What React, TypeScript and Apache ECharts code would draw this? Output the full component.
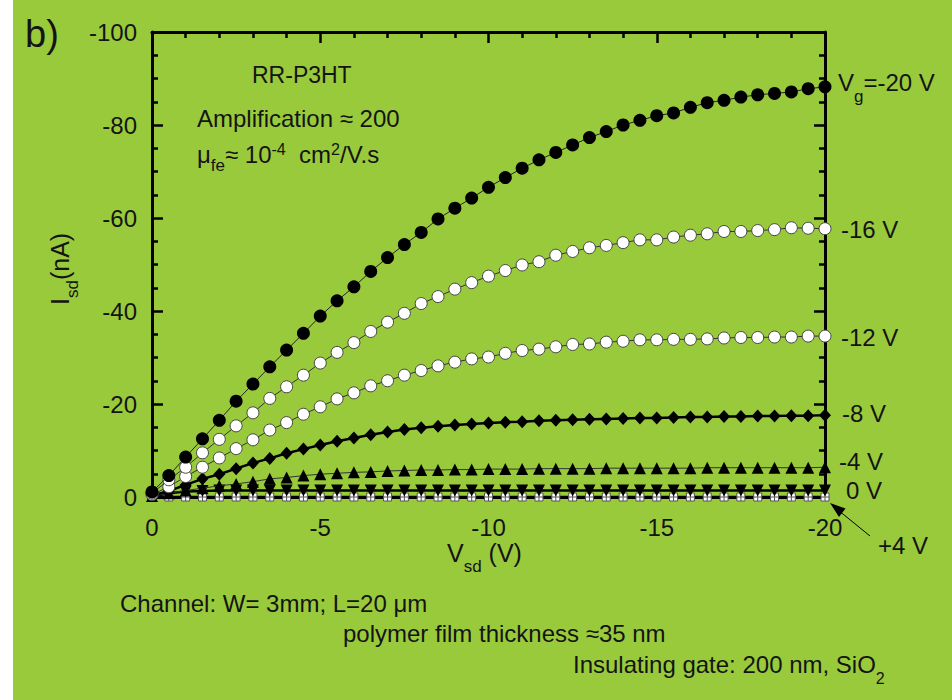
import React, { useEffect, useRef } from 'react';
import * as echarts from 'echarts';

const VSD = [0, -0.5, -1, -1.5, -2, -2.5, -3, -3.5, -4, -4.5, -5, -5.5, -6, -6.5, -7, -7.5, -8, -8.5, -9, -9.5, -10,
  -10.5, -11, -11.5, -12, -12.5, -13, -13.5, -14, -14.5, -15, -15.5, -16, -16.5, -17, -17.5, -18, -18.5, -19, -19.5, -20];

const I_VG_M20 = [-1.1, -4.6, -8.6, -12.5, -16.5, -20.6, -24.3, -28.0, -31.6, -35.2, -38.9, -42.2, -45.2, -48.5, -51.5,
  -54.3, -56.9, -59.8, -62.1, -64.3, -66.6, -68.7, -70.7, -72.5, -74.1, -75.7, -77.3, -78.6, -80.0, -81.0, -82.0,
  -82.6, -83.8, -84.8, -85.3, -86.0, -86.5, -86.8, -87.1, -87.8, -88.2];
const I_VG_M16 = [-0.8, -3.7, -6.4, -9.5, -12.4, -15.3, -18.1, -21.2, -23.7, -26.2, -28.8, -31.1, -33.2, -35.6, -37.6,
  -39.5, -41.6, -43.1, -44.7, -46.1, -47.5, -48.7, -49.9, -50.6, -52.0, -52.8, -53.6, -54.1, -54.7, -55.3, -55.3,
  -55.9, -56.3, -56.6, -57.1, -57.1, -57.3, -57.5, -57.9, -57.8, -57.7];
const I_VG_M12 = [-0.5, -2.2, -4.4, -6.4, -8.4, -10.4, -12.3, -14.4, -16.0, -17.8, -19.4, -21.1, -22.4, -23.9, -25.0,
  -26.2, -27.2, -28.2, -29.0, -29.7, -30.1, -30.9, -31.5, -31.8, -32.3, -32.8, -32.9, -33.3, -33.5, -33.8, -33.8,
  -33.9, -33.9, -34.0, -34.2, -34.3, -34.3, -34.4, -34.4, -34.6, -34.6];
const I_VG_M8 = [-0.3, -1.3, -2.6, -3.9, -4.9, -6.1, -7.3, -8.3, -9.4, -10.3, -11.2, -12.0, -12.7, -13.4, -14.0,
  -14.5, -14.9, -15.2, -15.5, -15.7, -15.9, -16.1, -16.2, -16.4, -16.5, -16.6, -16.7, -16.8, -16.9, -17.0, -17.0,
  -17.1, -17.2, -17.2, -17.3, -17.3, -17.4, -17.4, -17.5, -17.5, -17.6];
const I_VG_M4 = [-0.2, -0.8, -1.4, -1.9, -2.4, -2.8, -3.3, -3.9, -4.2, -4.6, -4.9, -5.1, -5.3, -5.4, -5.6,
  -5.7, -5.8, -5.8, -5.9, -5.9, -6.0, -6.0, -6.0, -6.1, -6.1, -6.1, -6.1, -6.2, -6.2, -6.2, -6.2,
  -6.2, -6.2, -6.3, -6.3, -6.3, -6.3, -6.3, -6.3, -6.3, -6.4];
const I_VG_0 = [-0.1, -0.8, -1.2, -1.3, -1.4, -1.4, -1.4, -1.4, -1.4, -1.4, -1.4, -1.4, -1.4, -1.4, -1.4,
  -1.4, -1.4, -1.4, -1.4, -1.4, -1.4, -1.4, -1.4, -1.4, -1.4, -1.4, -1.4, -1.4, -1.4, -1.4, -1.4,
  -1.4, -1.4, -1.4, -1.4, -1.4, -1.4, -1.4, -1.4, -1.4, -1.4];
const I_VG_P4 = [0, 0, 0, 0, 0, 0, 0, 0, 0, 0, 0, 0, 0, 0, 0, 0, 0, 0, 0, 0, 0,
  0, 0, 0, 0, 0, 0, 0, 0, 0, 0, 0, 0, 0, 0, 0, 0, 0, 0, 0, 0];

const FONT = "'Liberation Sans', Arial, Helvetica, sans-serif";
const INK = '#141414';

type Piece = [string, number, number];

export default function App() {
  const ref = useRef<HTMLDivElement>(null);
  useEffect(() => {
    document.body.style.margin = '0';
    const chart = echarts.init(ref.current!, null, { renderer: 'svg' });
    const ctx = document.createElement('canvas').getContext('2d')!;
    const measure = (t: string, s: number) => {
      ctx.font = `${s}px "Liberation Sans"`;
      return ctx.measureText(t).width;
    };
    const txt = (t: string, x: number, y: number, s = 24, extra: any = {}) => ({
      type: 'text', x, y, z: 100, silent: true, ...extra,
      style: { text: t, fill: INK, fontSize: s, fontFamily: FONT, align: 'left', verticalAlign: 'middle' },
    });
    const row = (x0: number, y0: number, pieces: Piece[], rot = false) => {
      let acc = 0;
      const out: any[] = [];
      for (const [t, s, dy] of pieces) {
        if (rot) out.push(txt(t, x0 + dy, y0 - acc, s, { rotation: Math.PI / 2 }));
        else out.push(txt(t, x0 + acc, y0 + dy, s));
        acc += measure(t, s);
      }
      return out;
    };

    const pairs = (ys: number[]) => VSD.map((x, i) => [x, ys[i]]);

    const axisBase = (pos: string, showLabel: boolean, isX: boolean) => ({
      type: 'value',
      position: pos,
      min: isX ? -20 : -100,
      max: 0,
      interval: isX ? 5 : 20,
      inverse: true,
      axisLine: { show: true, onZero: false, lineStyle: { color: '#000', width: 3 } },
      axisTick: { show: true, inside: true, length: 11, lineStyle: { color: '#000', width: 2.5 } },
      minorTick: { show: true, splitNumber: isX ? 5 : 4, length: 6, lineStyle: { color: '#000', width: 2.5 } },
      splitLine: { show: false },
      minorSplitLine: { show: false },
      axisLabel: {
        show: showLabel,
        margin: isX ? 18 : 15,
        fontSize: 24,
        fontFamily: FONT,
        color: INK,
        formatter: (v: number) => String(v),
      },
    });

    const lineSeries = (name: string, ys: number[], sym: any, line: any, z = 2) => ({
      name, type: 'line', data: pairs(ys), clip: false, showAllSymbol: true, z,
      ...sym,
      lineStyle: line,
      emphasis: { disabled: true },
    });

    const graphics: any[] = [
      txt('b)', 25, 34, 38),
      txt('RR-P3HT', 252, 75, 23),
      txt('Amplification \u2248 200', 197, 118, 24),
      ...row(197, 154, [['\u03bc', 24, 0], ['fe', 17, 11], ['\u2248 10', 24, 0], ['-4', 16, -5], ['  cm', 24, 0], ['2', 16, -5], ['/V.s', 24, 0]]),
      ...row(838, 82, [['V', 24, 0], ['g', 17, 14], ['=-20 V', 24, 0]]),
      txt('-16 V', 841, 229),
      txt('-12 V', 841, 337),
      txt('-8 V', 842, 413),
      txt('-4 V', 839, 461),
      txt('0 V', 846, 490),
      txt('+4 V', 878, 545),
      ...row(447, 553, [['V', 25, 0], ['sd', 17, 13], [' (V)', 25, 0]]),
      ...row(60, 305, [['I', 25, 0], ['sd', 17, 12], ['(nA)', 25, 0]], true),
      txt('Channel: W= 3mm; L=20 \u03bcm', 120, 603, 24),
      txt('polymer film thickness \u224835 nm', 343, 633, 24),
      ...row(573, 664, [['Insulating gate: 200 nm, SiO', 24, 0], ['2', 16, 14]]),
      { type: 'line', z: 100, silent: true, shape: { x1: 870, y1: 536, x2: 838, y2: 510 }, style: { stroke: '#000', lineWidth: 1 } },
      { type: 'polygon', z: 100, silent: true, shape: { points: [[830, 503], [839, 517], [845.5, 508.5]] }, style: { fill: '#000' } },
    ];

    chart.setOption({
      animation: false,
      backgroundColor: 'transparent',
      grid: { left: 152, right: 127, top: 32, bottom: 203, outerBoundsMode: 'none', containLabel: false },
      xAxis: [axisBase('bottom', true, true), axisBase('top', false, true)],
      yAxis: [axisBase('left', true, false), axisBase('right', false, false)],
      series: [
        lineSeries('+4 V', I_VG_P4,
          { symbol: 'path://M0,0L10,0L10,10L0,10Z M5,0L5,10 M0,5L10,5', symbolSize: 8, itemStyle: { color: '#fff', borderColor: '#555', borderWidth: 1 } },
          { color: '#000', width: 2.5 }, 3),
        lineSeries('0 V', I_VG_0,
          { symbol: 'triangle', symbolRotate: 180, symbolSize: 12, itemStyle: { color: '#000' } },
          { color: '#000', width: 2.5 }, 4),
        lineSeries('-4 V', I_VG_M4,
          { symbol: 'triangle', symbolSize: 12, itemStyle: { color: '#000' } },
          { color: '#333', width: 1 }, 5),
        lineSeries('-8 V', I_VG_M8,
          { symbol: 'diamond', symbolSize: [12, 13], itemStyle: { color: '#000' } },
          { color: '#000', width: 2.5 }, 6),
        lineSeries('-12 V', I_VG_M12,
          { symbol: 'circle', symbolSize: 12, itemStyle: { color: '#fff', borderColor: '#444', borderWidth: 1 } },
          { color: '#333', width: 1 }, 7),
        lineSeries('-16 V', I_VG_M16,
          { symbol: 'circle', symbolSize: 12, itemStyle: { color: '#fff', borderColor: '#444', borderWidth: 1 } },
          { color: '#333', width: 1 }, 8),
        lineSeries('-20 V', I_VG_M20,
          { symbol: 'circle', symbolSize: 13, itemStyle: { color: '#000' } },
          { color: '#222', width: 1 }, 9),
      ],
      graphic: { elements: graphics },
    });
    return () => chart.dispose();
  }, []);
  return (
    <div
      ref={ref}
      style={{ width: 952, height: 700, background: 'linear-gradient(to right, #ffffff 13px, #99CA3C 13px)' }}
    />
  );
}
